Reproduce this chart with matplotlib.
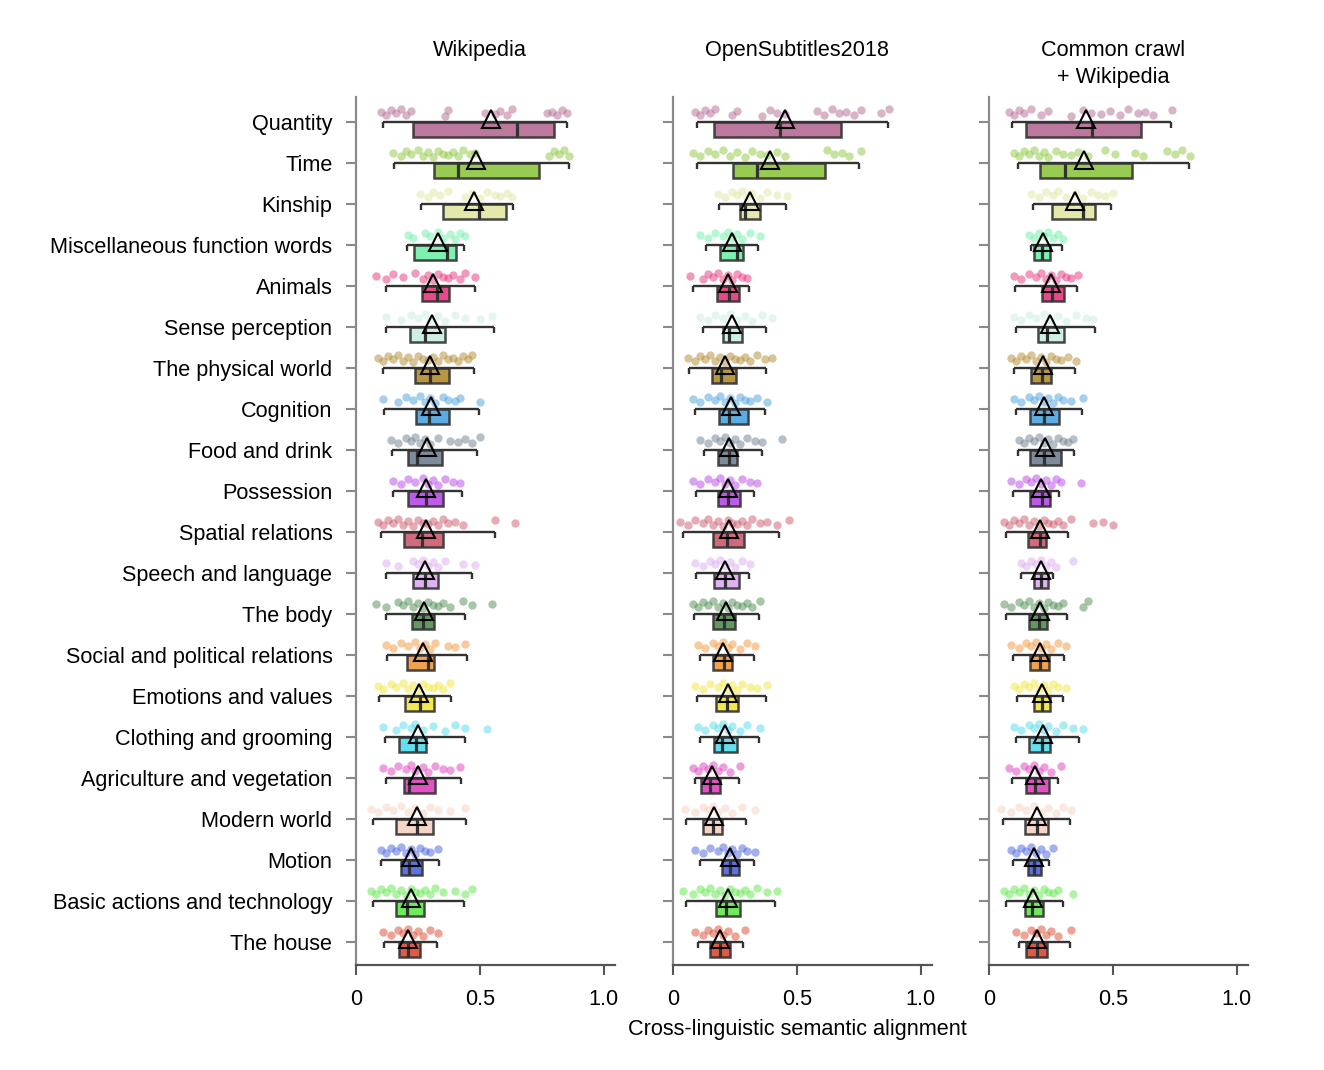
import numpy as np
import matplotlib
matplotlib.use("Agg")
import matplotlib.pyplot as plt
import matplotlib.transforms as mtransforms

plt.rcParams['font.family'] = ['Liberation Sans', 'DejaVu Sans']

categorias = ["Quantity", "Time", "Kinship", "Miscellaneous function words", "Animals",
              "Sense perception", "The physical world", "Cognition", "Food and drink",
              "Possession", "Spatial relations", "Speech and language", "The body",
              "Social and political relations", "Emotions and values", "Clothing and grooming",
              "Agriculture and vegetation", "Modern world", "Motion",
              "Basic actions and technology", "The house"]

colores = ["#b56b93", "#8cc63f", "#e1e6a2", "#6ff0a8", "#e8347c", "#c8efdf", "#b38b30",
           "#4aa3df", "#6f7f8f", "#b847e8", "#cc5a6e", "#deaaf0", "#4f8f50", "#f0983d",
           "#f2e640", "#52dcec", "#df3fbf", "#f6d0c0", "#4a63de", "#5fe84a", "#dc4a30"]

titulos = ["Wikipedia", "OpenSubtitles2018", "Common crawl\n+ Wikipedia"]

# ---- Wikipedia ----
wiki_lo = [0.108, 0.155, 0.261, 0.207, 0.121, 0.120, 0.110, 0.114, 0.146, 0.150, 0.100,
           0.120, 0.120, 0.124, 0.094, 0.117, 0.120, 0.070, 0.101, 0.067, 0.114]
wiki_q1 = [0.229, 0.316, 0.350, 0.234, 0.267, 0.219, 0.239, 0.242, 0.211, 0.208, 0.194,
           0.229, 0.224, 0.204, 0.198, 0.175, 0.195, 0.161, 0.180, 0.161, 0.175]
wiki_med = [0.648, 0.413, 0.496, 0.368, 0.325, 0.280, 0.298, 0.294, 0.245, 0.282, 0.265,
            0.278, 0.271, 0.292, 0.258, 0.242, 0.215, 0.247, 0.215, 0.204, 0.210]
wiki_q3 = [0.800, 0.739, 0.605, 0.403, 0.376, 0.358, 0.376, 0.376, 0.345, 0.350, 0.350,
           0.329, 0.316, 0.316, 0.316, 0.282, 0.319, 0.309, 0.267, 0.275, 0.258]
wiki_hi = [0.850, 0.860, 0.632, 0.437, 0.481, 0.556, 0.476, 0.496, 0.489, 0.427, 0.559,
           0.470, 0.441, 0.448, 0.383, 0.441, 0.423, 0.444, 0.333, 0.435, 0.328]
wiki_media = [0.544, 0.483, 0.476, 0.329, 0.312, 0.306, 0.298, 0.301, 0.288, 0.282, 0.282,
              0.278, 0.274, 0.269, 0.255, 0.251, 0.251, 0.245, 0.220, 0.220, 0.210]
wiki_puntos = [
    [0.10, 0.12, 0.14, 0.16, 0.18, 0.20, 0.22, 0.36, 0.37, 0.52, 0.56, 0.58, 0.61, 0.63, 0.77, 0.79, 0.81, 0.83, 0.85],
    [0.15, 0.18, 0.20, 0.22, 0.25, 0.27, 0.29, 0.31, 0.33, 0.35, 0.37, 0.39, 0.41, 0.43, 0.46, 0.48, 0.78, 0.80, 0.82, 0.84, 0.86],
    [0.26, 0.29, 0.31, 0.34, 0.37, 0.44, 0.47, 0.50, 0.53, 0.56, 0.58, 0.61, 0.63],
    [0.21, 0.23, 0.28, 0.30, 0.33, 0.35, 0.38, 0.40, 0.42, 0.44],
    [0.08, 0.12, 0.15, 0.19, 0.24, 0.27, 0.29, 0.31, 0.33, 0.35, 0.37, 0.39, 0.42, 0.44, 0.48],
    [0.12, 0.18, 0.22, 0.25, 0.28, 0.30, 0.33, 0.36, 0.40, 0.44, 0.50, 0.55],
    [0.09, 0.11, 0.13, 0.15, 0.17, 0.19, 0.21, 0.23, 0.25, 0.27, 0.29, 0.31, 0.33, 0.35, 0.37, 0.39, 0.41, 0.43, 0.45, 0.47],
    [0.11, 0.17, 0.20, 0.23, 0.26, 0.28, 0.30, 0.32, 0.35, 0.37, 0.40, 0.42, 0.50],
    [0.14, 0.17, 0.20, 0.22, 0.24, 0.26, 0.28, 0.30, 0.33, 0.38, 0.41, 0.44, 0.47, 0.50],
    [0.15, 0.18, 0.21, 0.24, 0.27, 0.29, 0.31, 0.33, 0.36, 0.39, 0.42],
    [0.09, 0.11, 0.13, 0.15, 0.17, 0.19, 0.21, 0.23, 0.25, 0.27, 0.29, 0.31, 0.33, 0.35, 0.37, 0.40, 0.43, 0.56, 0.64],
    [0.12, 0.17, 0.23, 0.25, 0.27, 0.29, 0.31, 0.33, 0.36, 0.43, 0.48],
    [0.08, 0.12, 0.17, 0.19, 0.21, 0.23, 0.25, 0.27, 0.29, 0.31, 0.33, 0.35, 0.38, 0.43, 0.47, 0.55],
    [0.12, 0.15, 0.18, 0.21, 0.24, 0.26, 0.28, 0.30, 0.32, 0.37, 0.40, 0.44],
    [0.09, 0.11, 0.14, 0.16, 0.19, 0.21, 0.23, 0.25, 0.27, 0.29, 0.31, 0.33, 0.35, 0.38],
    [0.11, 0.16, 0.19, 0.22, 0.24, 0.27, 0.31, 0.36, 0.40, 0.44, 0.53],
    [0.11, 0.14, 0.17, 0.20, 0.22, 0.24, 0.27, 0.29, 0.32, 0.35, 0.38, 0.42],
    [0.06, 0.09, 0.12, 0.15, 0.18, 0.21, 0.24, 0.27, 0.30, 0.33, 0.38, 0.44],
    [0.10, 0.12, 0.14, 0.16, 0.18, 0.20, 0.22, 0.24, 0.26, 0.28, 0.30, 0.33],
    [0.06, 0.08, 0.10, 0.12, 0.14, 0.16, 0.18, 0.20, 0.22, 0.24, 0.26, 0.28, 0.30, 0.32, 0.35, 0.40, 0.44, 0.47],
    [0.11, 0.14, 0.17, 0.19, 0.21, 0.23, 0.25, 0.27, 0.30, 0.33],
]

# ---- OpenSubtitles2018 ----
subs_lo = [0.098, 0.096, 0.185, 0.132, 0.080, 0.120, 0.066, 0.089, 0.127, 0.092, 0.039,
           0.093, 0.086, 0.109, 0.098, 0.109, 0.089, 0.053, 0.107, 0.053, 0.100]
subs_q1 = [0.167, 0.244, 0.269, 0.188, 0.177, 0.200, 0.159, 0.184, 0.181, 0.181, 0.161,
           0.167, 0.161, 0.161, 0.174, 0.167, 0.113, 0.120, 0.197, 0.173, 0.150]
subs_med = [0.433, 0.339, 0.292, 0.260, 0.224, 0.224, 0.194, 0.227, 0.224, 0.220, 0.217,
            0.211, 0.206, 0.204, 0.217, 0.197, 0.150, 0.163, 0.228, 0.215, 0.190]
subs_q3 = [0.678, 0.613, 0.350, 0.282, 0.265, 0.278, 0.255, 0.301, 0.260, 0.271, 0.285,
           0.267, 0.252, 0.238, 0.262, 0.258, 0.190, 0.197, 0.267, 0.271, 0.228]
subs_hi = [0.869, 0.750, 0.457, 0.341, 0.305, 0.377, 0.377, 0.372, 0.359, 0.328, 0.427,
           0.305, 0.348, 0.328, 0.377, 0.345, 0.267, 0.296, 0.325, 0.413, 0.282]
subs_media = [0.453, 0.390, 0.309, 0.240, 0.221, 0.238, 0.208, 0.235, 0.227, 0.220, 0.224,
              0.211, 0.213, 0.200, 0.220, 0.211, 0.157, 0.167, 0.228, 0.221, 0.190]
subs_puntos = [
    [0.09, 0.11, 0.13, 0.15, 0.17, 0.24, 0.26, 0.36, 0.39, 0.42, 0.45, 0.58, 0.61, 0.64, 0.67, 0.70, 0.73, 0.76, 0.84, 0.87],
    [0.08, 0.11, 0.14, 0.17, 0.20, 0.23, 0.26, 0.29, 0.32, 0.35, 0.38, 0.42, 0.45, 0.62, 0.65, 0.68, 0.71, 0.76],
    [0.18, 0.21, 0.24, 0.26, 0.28, 0.30, 0.32, 0.35, 0.38, 0.42, 0.46],
    [0.11, 0.14, 0.17, 0.20, 0.22, 0.24, 0.26, 0.28, 0.31, 0.35],
    [0.07, 0.12, 0.14, 0.16, 0.18, 0.20, 0.22, 0.24, 0.26, 0.28, 0.30],
    [0.11, 0.14, 0.17, 0.20, 0.23, 0.26, 0.29, 0.32, 0.36, 0.40],
    [0.06, 0.09, 0.11, 0.13, 0.15, 0.17, 0.19, 0.21, 0.23, 0.25, 0.27, 0.29, 0.31, 0.34, 0.37, 0.40],
    [0.08, 0.11, 0.14, 0.17, 0.19, 0.21, 0.23, 0.25, 0.27, 0.29, 0.31, 0.34, 0.38],
    [0.11, 0.14, 0.17, 0.19, 0.21, 0.23, 0.25, 0.27, 0.30, 0.33, 0.36, 0.44],
    [0.08, 0.11, 0.14, 0.17, 0.19, 0.21, 0.23, 0.25, 0.28, 0.31, 0.34],
    [0.03, 0.06, 0.09, 0.12, 0.14, 0.16, 0.18, 0.20, 0.22, 0.24, 0.26, 0.28, 0.30, 0.32, 0.35, 0.38, 0.42, 0.47],
    [0.09, 0.12, 0.15, 0.17, 0.19, 0.21, 0.23, 0.25, 0.28, 0.31],
    [0.08, 0.10, 0.12, 0.14, 0.16, 0.18, 0.20, 0.22, 0.24, 0.26, 0.28, 0.30, 0.32, 0.35],
    [0.10, 0.13, 0.16, 0.18, 0.20, 0.22, 0.24, 0.27, 0.30, 0.33],
    [0.09, 0.12, 0.15, 0.18, 0.20, 0.22, 0.24, 0.26, 0.28, 0.31, 0.34, 0.38],
    [0.10, 0.13, 0.16, 0.18, 0.20, 0.22, 0.24, 0.27, 0.30, 0.35],
    [0.08, 0.10, 0.12, 0.14, 0.16, 0.18, 0.20, 0.23, 0.27],
    [0.05, 0.09, 0.12, 0.14, 0.16, 0.18, 0.21, 0.24, 0.28, 0.33],
    [0.09, 0.12, 0.15, 0.18, 0.20, 0.22, 0.24, 0.26, 0.28, 0.30, 0.33],
    [0.04, 0.08, 0.11, 0.13, 0.15, 0.17, 0.19, 0.21, 0.23, 0.25, 0.27, 0.29, 0.31, 0.34, 0.38, 0.42],
    [0.09, 0.12, 0.14, 0.16, 0.18, 0.20, 0.22, 0.25, 0.29],
]

# ---- Common crawl + Wikipedia ----
cc_lo = [0.092, 0.115, 0.179, 0.169, 0.105, 0.109, 0.102, 0.109, 0.119, 0.096, 0.069,
         0.130, 0.068, 0.096, 0.112, 0.109, 0.094, 0.058, 0.096, 0.068, 0.123]
cc_q1 = [0.150, 0.204, 0.254, 0.183, 0.213, 0.197, 0.170, 0.166, 0.166, 0.166, 0.157,
         0.183, 0.163, 0.166, 0.183, 0.163, 0.150, 0.146, 0.159, 0.146, 0.150]
cc_med = [0.416, 0.308, 0.379, 0.213, 0.256, 0.236, 0.213, 0.220, 0.223, 0.213, 0.204,
          0.211, 0.200, 0.206, 0.213, 0.213, 0.186, 0.193, 0.183, 0.173, 0.193]
cc_q3 = [0.614, 0.575, 0.429, 0.247, 0.301, 0.301, 0.251, 0.281, 0.291, 0.247, 0.231,
         0.238, 0.234, 0.243, 0.247, 0.247, 0.243, 0.238, 0.209, 0.216, 0.233]
cc_hi = [0.735, 0.807, 0.493, 0.294, 0.357, 0.426, 0.345, 0.375, 0.341, 0.281, 0.320,
         0.260, 0.315, 0.301, 0.298, 0.362, 0.277, 0.328, 0.244, 0.297, 0.328]
cc_media = [0.391, 0.382, 0.345, 0.217, 0.251, 0.247, 0.217, 0.223, 0.224, 0.209, 0.204,
            0.211, 0.204, 0.206, 0.213, 0.217, 0.186, 0.193, 0.183, 0.179, 0.195]
cc_puntos = [
    [0.08, 0.10, 0.12, 0.14, 0.17, 0.21, 0.24, 0.33, 0.38, 0.41, 0.45, 0.49, 0.53, 0.56, 0.60, 0.63, 0.66, 0.74],
    [0.10, 0.12, 0.14, 0.16, 0.18, 0.20, 0.22, 0.24, 0.27, 0.30, 0.33, 0.36, 0.40, 0.47, 0.51, 0.59, 0.62, 0.72, 0.75, 0.78, 0.81],
    [0.17, 0.20, 0.23, 0.26, 0.28, 0.31, 0.35, 0.38, 0.41, 0.44, 0.47, 0.50],
    [0.16, 0.18, 0.20, 0.22, 0.24, 0.26, 0.28, 0.30],
    [0.10, 0.13, 0.16, 0.19, 0.21, 0.23, 0.25, 0.27, 0.29, 0.31, 0.33, 0.36],
    [0.10, 0.13, 0.16, 0.19, 0.22, 0.25, 0.28, 0.31, 0.35, 0.39, 0.42],
    [0.09, 0.11, 0.13, 0.15, 0.17, 0.19, 0.21, 0.23, 0.25, 0.27, 0.29, 0.32, 0.35],
    [0.10, 0.13, 0.16, 0.18, 0.20, 0.22, 0.24, 0.26, 0.28, 0.30, 0.33, 0.38],
    [0.12, 0.14, 0.16, 0.18, 0.20, 0.22, 0.24, 0.26, 0.28, 0.30, 0.32, 0.34],
    [0.09, 0.12, 0.15, 0.17, 0.19, 0.21, 0.23, 0.25, 0.27, 0.29, 0.37],
    [0.06, 0.08, 0.10, 0.12, 0.14, 0.16, 0.18, 0.20, 0.22, 0.24, 0.26, 0.28, 0.30, 0.33, 0.42, 0.46, 0.50],
    [0.13, 0.15, 0.17, 0.19, 0.21, 0.23, 0.25, 0.27, 0.34],
    [0.06, 0.09, 0.12, 0.14, 0.16, 0.18, 0.20, 0.22, 0.24, 0.26, 0.28, 0.30, 0.38, 0.40],
    [0.09, 0.12, 0.15, 0.17, 0.19, 0.21, 0.23, 0.25, 0.28, 0.31],
    [0.10, 0.12, 0.14, 0.16, 0.18, 0.20, 0.22, 0.24, 0.26, 0.28, 0.31],
    [0.10, 0.13, 0.16, 0.18, 0.20, 0.22, 0.24, 0.27, 0.30, 0.34, 0.38],
    [0.08, 0.11, 0.14, 0.16, 0.18, 0.20, 0.22, 0.25, 0.29],
    [0.05, 0.09, 0.12, 0.15, 0.18, 0.21, 0.24, 0.27, 0.30, 0.33],
    [0.09, 0.11, 0.13, 0.15, 0.17, 0.19, 0.21, 0.23, 0.26],
    [0.06, 0.08, 0.10, 0.12, 0.14, 0.16, 0.18, 0.20, 0.22, 0.24, 0.26, 0.28, 0.34],
    [0.11, 0.14, 0.17, 0.19, 0.21, 0.23, 0.25, 0.28, 0.33],
]

paneles = [
    (wiki_lo, wiki_q1, wiki_med, wiki_q3, wiki_hi, wiki_media, wiki_puntos),
    (subs_lo, subs_q1, subs_med, subs_q3, subs_hi, subs_media, subs_puntos),
    (cc_lo, cc_q1, cc_med, cc_q3, cc_hi, cc_media, cc_puntos),
]

# desplazamiento vertical fijo de los puntos (solo estética)
jitter = [0.00, 0.07, -0.05, 0.03, -0.08, 0.06, -0.02, 0.09, -0.06, 0.01, 0.05, -0.04, 0.08, -0.07, 0.02]

GRIS_LINEA = "#333333"
ALTO_CAJA = 0.37
FS = 15.6

fig = plt.figure(figsize=(13.24, 10.70), dpi=100)
izquierdas = [356 / 1324, 673 / 1324, 989 / 1324]
ancho = 259 / 1324
abajo = 1 - 965 / 1070
alto = (965 - 97) / 1070

y = np.arange(len(categorias))

for k, (lo, q1, med, q3, hi, media, puntos) in enumerate(paneles):
    ax = fig.add_axes([izquierdas[k], abajo, ancho, alto])

    for i in range(len(categorias)):
        xs = np.array(puntos[i])
        ys = np.array([y[i] - 0.24 + jitter[j % len(jitter)] for j in range(len(xs))])
        ax.scatter(xs, ys, s=36, color=colores[i], alpha=0.5, linewidths=0, zorder=1)

    ax.barh(y + ALTO_CAJA / 2, np.array(q3) - np.array(q1), left=q1, height=ALTO_CAJA,
            color=colores, alpha=0.9, edgecolor=GRIS_LINEA, linewidth=1.8, zorder=2)
    ax.hlines(y, lo, hi, color=GRIS_LINEA, linewidth=1.7, zorder=3)
    ax.vlines(lo, y, y + 0.15, color=GRIS_LINEA, linewidth=1.7, zorder=3)
    ax.vlines(hi, y, y + 0.15, color=GRIS_LINEA, linewidth=1.7, zorder=3)
    ax.vlines(med, y, y + ALTO_CAJA, color=GRIS_LINEA, linewidth=2.3, zorder=3)
    ax.plot(media, y - 0.08, linestyle="none", marker="^", markersize=12.5,
            markerfacecolor="none", markeredgecolor="black", markeredgewidth=1.5, zorder=4)

    ax.set_xlim(0, 1.045)
    ax.set_ylim(len(categorias) - 1 + 0.56, -0.61)

    ax.spines["top"].set_visible(False)
    ax.spines["right"].set_visible(False)
    ax.spines["left"].set_color("#8a8a8a")
    ax.spines["left"].set_linewidth(1.6)
    ax.spines["bottom"].set_color("#555555")
    ax.spines["bottom"].set_linewidth(1.6)

    ax.set_xticks([0, 0.5, 1.0])
    ax.set_xticklabels(["0", "0.5", "1.0"], fontsize=FS)
    ax.tick_params(axis="x", length=7, width=1.5, color="#555555", pad=10)
    ax.set_yticks(y)
    if k == 0:
        ax.set_yticklabels(categorias, fontsize=FS)
    else:
        ax.set_yticklabels([])
    ax.tick_params(axis="y", length=7, width=1.5, color="#8a8a8a", pad=10)

    trans = mtransforms.blended_transform_factory(ax.transData, fig.transFigure)
    ax.text(0.5, 1 - 40 / 1070, titulos[k], transform=trans, ha="center", va="top",
            fontsize=FS, linespacing=1.35)

    if k == 1:
        ax.text(0.5, 1 - 1019 / 1070, "Cross-linguistic semantic alignment", transform=trans,
                ha="center", va="top", fontsize=FS)

fig.savefig("out.png", dpi=100, facecolor="white")
